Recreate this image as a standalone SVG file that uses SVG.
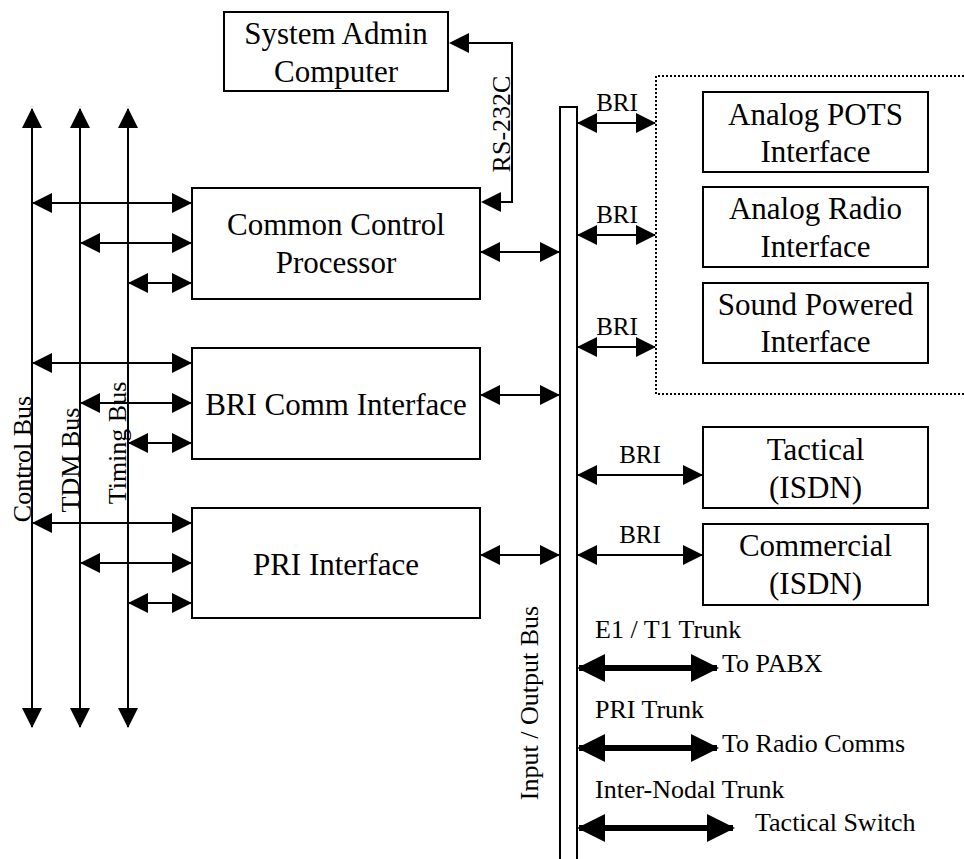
<svg xmlns="http://www.w3.org/2000/svg" width="964" height="859" viewBox="0 0 964 859">
<style>
.box{fill:#fff;stroke:#000;stroke-width:2}
.t{font-family:"Liberation Serif","Times New Roman",serif;fill:#000}
.n{font-size:31px;text-anchor:middle}
.s{font-size:26px}
.c{font-size:25px;text-anchor:middle}
.ln{stroke:#000;stroke-width:2;fill:none}
.dbl{marker-start:url(#ah);marker-end:url(#ah)}
.thick{stroke:#000;stroke-width:6;fill:none;marker-start:url(#bh);marker-end:url(#bh)}
</style>
<defs>
<marker id="ah" markerUnits="userSpaceOnUse" viewBox="0 0 20 20" markerWidth="20" markerHeight="20" refX="19" refY="10" orient="auto-start-reverse"><path d="M0,0L20,10L0,20z" fill="#000"/></marker>
<marker id="bh" markerUnits="userSpaceOnUse" viewBox="0 0 28 28" markerWidth="28" markerHeight="28" refX="26" refY="14" orient="auto-start-reverse"><path d="M0,0L28,14L0,28z" fill="#000"/></marker>
</defs>
<rect width="964" height="859" fill="#fff"/>

<g id="connectors">
  <!-- buses -->
  <line class="ln dbl" x1="32" y1="109" x2="32" y2="727"/>
  <line class="ln dbl" x1="80" y1="109" x2="80" y2="727"/>
  <line class="ln dbl" x1="128" y1="109" x2="128" y2="727"/>
  <!-- bus to CCP -->
  <line class="ln dbl" x1="33" y1="203" x2="191" y2="203"/>
  <line class="ln dbl" x1="81" y1="243" x2="191" y2="243"/>
  <line class="ln dbl" x1="129" y1="283" x2="191" y2="283"/>
  <!-- bus to BRI Comm -->
  <line class="ln dbl" x1="33" y1="363" x2="191" y2="363"/>
  <line class="ln dbl" x1="81" y1="403" x2="191" y2="403"/>
  <line class="ln dbl" x1="129" y1="443" x2="191" y2="443"/>
  <!-- bus to PRI -->
  <line class="ln dbl" x1="33" y1="523" x2="191" y2="523"/>
  <line class="ln dbl" x1="81" y1="563" x2="191" y2="563"/>
  <line class="ln dbl" x1="129" y1="603" x2="191" y2="603"/>
  <!-- boxes to I/O bus -->
  <line class="ln dbl" x1="481" y1="252" x2="559" y2="252"/>
  <line class="ln dbl" x1="481" y1="395" x2="559" y2="395"/>
  <line class="ln dbl" x1="481" y1="555" x2="559" y2="555"/>
  <!-- RS-232C -->
  <path class="ln" d="M466,43H512V202H499"/>
  <path d="M449,43L469,33L469,53z" fill="#000"/>
  <path d="M481,202L501,192L501,212z" fill="#000"/>
  <text class="t s" text-anchor="middle" transform="translate(510,124) rotate(-90)">RS-232C</text>
  <!-- BRI to dotted group -->
  <line class="ln dbl" x1="578" y1="123" x2="655" y2="123"/>
  <line class="ln dbl" x1="578" y1="235" x2="655" y2="235"/>
  <line class="ln dbl" x1="578" y1="347" x2="655" y2="347"/>
  <text class="t c" x="617" y="111">BRI</text>
  <text class="t c" x="617" y="223">BRI</text>
  <text class="t c" x="617" y="335">BRI</text>
  <!-- BRI to ISDN -->
  <line class="ln dbl" x1="578" y1="475" x2="702" y2="475"/>
  <line class="ln dbl" x1="578" y1="555" x2="702" y2="555"/>
  <text class="t c" x="640" y="463">BRI</text>
  <text class="t c" x="640" y="543">BRI</text>
  <!-- trunks -->
  <line class="thick" x1="579" y1="668" x2="717" y2="668"/>
  <line class="thick" x1="579" y1="748" x2="717" y2="748"/>
  <line class="thick" x1="579" y1="828" x2="733" y2="828"/>
  <text class="t s" x="595" y="638">E1 / T1 Trunk</text>
  <text class="t s" x="722" y="672">To PABX</text>
  <text class="t s" x="595" y="718">PRI Trunk</text>
  <text class="t s" x="722" y="752">To Radio Comms</text>
  <text class="t s" x="595" y="798">Inter-Nodal Trunk</text>
  <text class="t s" x="755" y="831">Tactical Switch</text>
</g>

<g id="bus-labels">
  <text class="t s" text-anchor="middle" transform="translate(31,459) rotate(-90)">Control Bus</text>
  <text class="t s" text-anchor="middle" transform="translate(79,460) rotate(-90)">TDM Bus</text>
  <text class="t s" text-anchor="middle" transform="translate(126,443) rotate(-90)">Timing Bus</text>
</g>

<g id="io-bus">
  <rect class="box" x="560" y="107" width="17" height="760"/>
  <text class="t s" text-anchor="middle" transform="translate(538,703) rotate(-90)">Input / Output Bus</text>
</g>

<g id="system-admin">
  <rect class="box" x="224" y="12" width="224" height="79"/>
  <text class="t n" x="336" y="44">System Admin</text>
  <text class="t n" x="336" y="82">Computer</text>
</g>

<g id="ccp">
  <rect class="box" x="192" y="188" width="288" height="111"/>
  <text class="t n" x="336" y="235">Common Control</text>
  <text class="t n" x="336" y="273">Processor</text>
</g>

<g id="bri-comm">
  <rect class="box" x="192" y="348" width="288" height="111"/>
  <text class="t n" x="336" y="415">BRI Comm Interface</text>
</g>

<g id="pri">
  <rect class="box" x="192" y="508" width="288" height="110"/>
  <text class="t n" x="336" y="575">PRI Interface</text>
</g>

<g id="analog-group">
  <path d="M964,76H656V394H964" fill="none" stroke="#000" stroke-width="2" stroke-dasharray="2,2"/>
</g>

<g id="analog-pots">
  <rect class="box" x="703" y="92" width="225" height="80"/>
  <text class="t n" x="815.5" y="125">Analog POTS</text>
  <text class="t n" x="815.5" y="162">Interface</text>
</g>

<g id="analog-radio">
  <rect class="box" x="703" y="187" width="225" height="80"/>
  <text class="t n" x="815.5" y="219">Analog Radio</text>
  <text class="t n" x="815.5" y="257">Interface</text>
</g>

<g id="sound-powered">
  <rect class="box" x="703" y="283" width="225" height="80"/>
  <text class="t n" x="815.5" y="315">Sound Powered</text>
  <text class="t n" x="815.5" y="352">Interface</text>
</g>

<g id="tactical">
  <rect class="box" x="703" y="427" width="225" height="81"/>
  <text class="t n" x="815.5" y="460">Tactical</text>
  <text class="t n" x="815.5" y="498">(ISDN)</text>
</g>

<g id="commercial">
  <rect class="box" x="703" y="524" width="225" height="81"/>
  <text class="t n" x="815.5" y="556">Commercial</text>
  <text class="t n" x="815.5" y="594">(ISDN)</text>
</g>
</svg>
